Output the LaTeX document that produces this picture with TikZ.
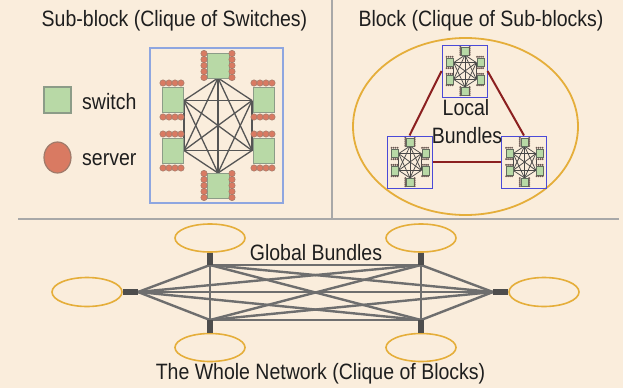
\documentclass[tikz,border=0pt]{standalone}
\usepackage{fontspec}
\setmainfont{Liberation Sans}
\usepackage{graphicx}
\usetikzlibrary{shapes.geometric}

\definecolor{paper}{HTML}{FAEDDC}
\definecolor{swfill}{HTML}{B8D9A6}
\definecolor{swline}{HTML}{8C9C88}
\definecolor{svfill}{HTML}{D97A62}
\definecolor{svline}{HTML}{A07A6A}
\definecolor{meshc}{HTML}{555555}
\definecolor{boxblue}{HTML}{8EA6E0}
\definecolor{miniblue}{HTML}{4A4AD8}
\definecolor{gold}{HTML}{E5AE3A}
\definecolor{bundle}{HTML}{6E6E6E}
\definecolor{stubc}{HTML}{4D4D4D}
\definecolor{localred}{HTML}{8B2020}
\definecolor{rulec}{HTML}{A8A8A8}
\definecolor{ink}{HTML}{1E1E1E}

% slightly tall lettering
\newcommand{\tall}[1]{\scalebox{1}[1.14]{#1}}

\tikzset{
  sw/.style={fill=swfill, draw=swline, line width=0.9pt},
  sv/.style={fill=svfill, draw=svline, line width=0.5pt},
  mesh/.style={draw=meshc, line width=1.3pt},
  minisb/.style={
    sw/.style={fill=swfill, draw=swline!70!black, line width=0.3pt},
    sv/.style={fill=stubc!80!svfill, draw=none},
    mesh/.style={draw=meshc!85!black, line width=0.75pt}},
  txt/.style={font=\fontsize{19.5}{22}\selectfont, text=ink, inner sep=0pt},
  rule/.style={draw=rulec, line width=1.8pt},
  blk/.style={ellipse, draw=gold, line width=1.6pt, fill=paper, inner sep=0pt},
  stub/.style={draw=stubc, line width=6.5pt},
  bundleline/.style={draw=bundle, line width=2.4pt},
  localline/.style={draw=localred, line width=2pt},
  minibox/.style={draw=miniblue, line width=1pt, minimum width=45pt, minimum height=52pt, inner sep=0pt},
  % one sub-block: six switches, their servers and the switch clique
  subblock/.pic={
    \coordinate (m1) at (0,-47.5);
    \coordinate (m2) at (0,47.5);
    \coordinate (m3) at (-34,-25);
    \coordinate (m4) at (-34,25);
    \coordinate (m5) at (34,-25);
    \coordinate (m6) at (34,25);
    \foreach \a/\b in {m1/m2,m1/m3,m1/m4,m1/m5,m1/m6,m2/m3,m2/m4,m2/m5,m2/m6,
                       m3/m4,m3/m5,m3/m6,m4/m5,m4/m6,m5/m6}
      \draw[mesh] (\a) -- (\b);
    % top and bottom switches with server columns
    \foreach \cy/\sy in {-60/-72, 60/48} {
      \path[sw] (-11,\cy-12.5) rectangle (11,\cy+12.5);
      \foreach \k in {0,...,4} {
        \path[sv] (-14,\sy+6*\k) circle[radius=3.2];
        \path[sv] (14,\sy+6*\k) circle[radius=3.2];
      }
    }
    % side switches with server rows
    \foreach \cx/\sx in {-45.5/-55, 45.5/36} {
      \foreach \cy in {-25.5, 25.5} {
        \path[sw] (\cx-10.5,\cy-12.5) rectangle (\cx+10.5,\cy+12.5);
        \foreach \k in {0,...,3} {
          \path[sv] (\sx+6*\k,\cy-17) circle[radius=3.2];
          \path[sv] (\sx+6*\k,\cy+17) circle[radius=3.2];
        }
      }
    }
  }
}

\begin{document}
\begin{tikzpicture}[x=1pt, y=-1pt]
  \fill[paper] (0,0) rectangle (623,388);
  \useasboundingbox (0,0) rectangle (623,388);

  % panel dividers
  \coordinate (vTop) at (332,0);
  \coordinate (vBot) at (332,219);
  \coordinate (hL) at (18,219);
  \coordinate (hR) at (619,219);
  \draw[rule, line width=1.4pt] (vTop) -- (vBot);
  \draw[rule] (hL) -- (hR);

  % ---------- sub-block ----------
  \node[txt, anchor=base] (tSub) at (174.5,26) {\tall{Sub-block (Clique of Switches)}};
  \node[sw, line width=1.4pt, minimum width=27pt, minimum height=26pt, inner sep=0pt] (legSw) at (57.5,100) {};
  \node[ellipse, sv, line width=1.2pt, minimum width=27pt, minimum height=31pt, inner sep=0pt] (legSv) at (57.5,157.5) {};
  \node[txt, anchor=base west] (tSw) at (82,109) {\tall{switch}};
  \node[txt, anchor=base west] (tSv) at (82,165) {\tall{server}};
  \node[draw=boxblue, line width=1.5pt, minimum width=133pt, minimum height=155pt, inner sep=0pt] (sbMain) at (216.5,125.5) {};
  \pic at (218,125.5) {subblock};

  % ---------- block ----------
  \node[txt, anchor=base] (tBlock) at (481,26) {\tall{Block (Clique of Sub-blocks)}};
  \node[ellipse, draw=gold, line width=1.8pt, minimum width=225pt, minimum height=177pt, inner sep=0pt] (blkEll) at (465.5,126.5) {};
  \node[minibox] (sbT) at (464.5,71) {};
  \node[minibox] (sbL) at (409.5,162) {};
  \node[minibox] (sbR) at (524,162) {};
  \pic[scale=0.335, minisb] at (465,71) {subblock};
  \pic[scale=0.335, minisb] at (410,162) {subblock};
  \pic[scale=0.335, minisb] at (524.5,162) {subblock};
  \draw[localline] (sbT.west) -- (sbL.north);
  \draw[localline] (sbT.east) -- (sbR.north);
  \draw[localline] (sbL.east) -- (sbR.west);
  \node[txt, anchor=base] (tLocal) at (466,115) {\tall{Local}};
  \node[txt, anchor=base] (tBund) at (467,143) {\tall{Bundles}};

  % ---------- whole network ----------
  \coordinate (hTL) at (210,265);
  \coordinate (hTR) at (421,265);
  \coordinate (hLf) at (138,292);
  \coordinate (hRt) at (493,292);
  \coordinate (hBL) at (210,320);
  \coordinate (hBR) at (421,320);
  \foreach \a/\b in {hTL/hTR,hTL/hLf,hTL/hRt,hTL/hBL,hTL/hBR,
                     hTR/hLf,hTR/hRt,hTR/hBL,hTR/hBR,
                     hLf/hRt,hLf/hBL,hLf/hBR,
                     hRt/hBL,hRt/hBR,hBL/hBR}
    \draw[bundleline] (\a) -- (\b);

  \node[blk, minimum width=70pt, minimum height=28pt] (eTL) at (210,238) {};
  \node[blk, minimum width=70pt, minimum height=28pt] (eTR) at (421,238) {};
  \node[blk, minimum width=70pt, minimum height=29pt] (eLf) at (87,292) {};
  \node[blk, minimum width=70pt, minimum height=29pt] (eRt) at (544,292) {};
  \node[blk, minimum width=70pt, minimum height=28pt] (eBL) at (210,347.5) {};
  \node[blk, minimum width=70pt, minimum height=28pt] (eBR) at (421,347.5) {};
  \draw[stub] (eTL.south) -- (hTL);
  \draw[stub] (eTR.south) -- (hTR);
  \draw[stub] (eLf.east) -- (hLf);
  \draw[stub] (eRt.west) -- (hRt);
  \draw[stub] (eBL.north) -- (hBL);
  \draw[stub] (eBR.north) -- (hBR);

  \node[txt, anchor=base] (tGlobal) at (316,260.5) {\tall{Global Bundles}};
  \node[txt, anchor=base] (tWhole) at (320.5,379) {\tall{The Whole Network (Clique of Blocks)}};
\end{tikzpicture}
\end{document}
